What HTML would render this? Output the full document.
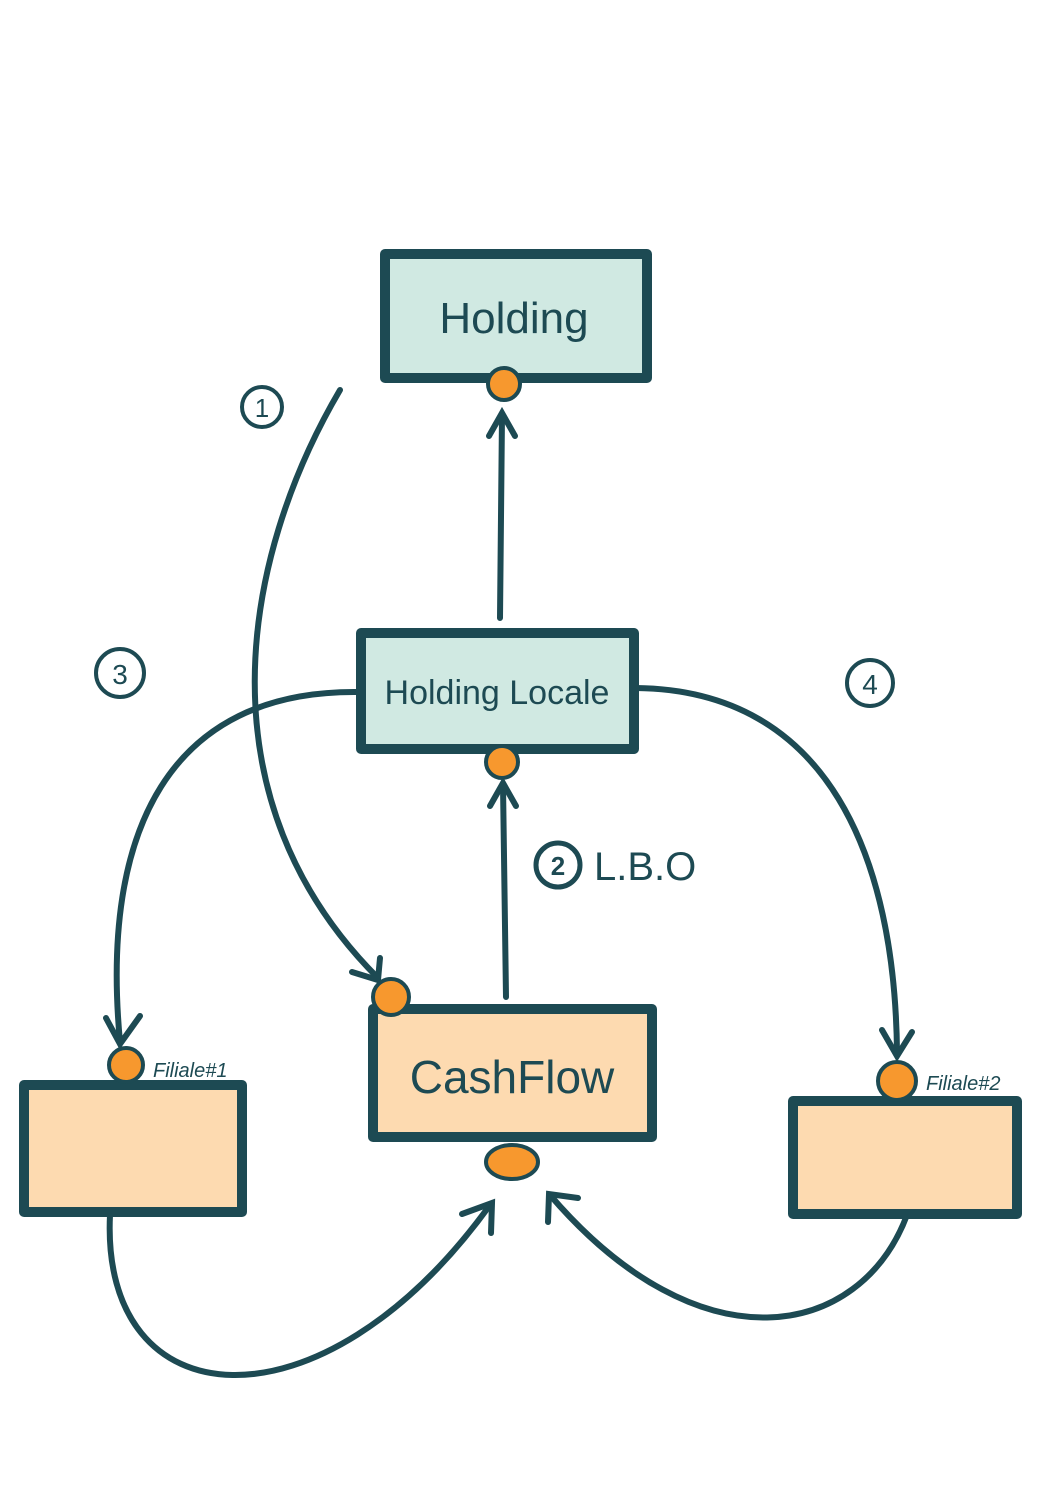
<!DOCTYPE html>
<html><head><meta charset="utf-8"><style>
html,body{margin:0;padding:0;background:#fff;width:1048px;height:1500px;overflow:hidden}
svg{display:block}
text{font-family:"Liberation Sans",sans-serif;fill:#1d4a53}
</style></head><body>
<svg width="1048" height="1500" viewBox="0 0 1048 1500" xmlns="http://www.w3.org/2000/svg">
<defs>
<marker id="ah" markerWidth="10" markerHeight="10" refX="5" refY="5" orient="auto" markerUnits="userSpaceOnUse" viewBox="0 0 10 10">
</marker>
</defs>
<g fill="none" stroke="#1d4a53" stroke-width="6" stroke-linecap="round">
<!-- vertical arrows -->
<path d="M500,618 L502,415"/>
<path d="M489,436 L502,413 L515,436"/>
<path d="M506,997 L503,785"/>
<path d="M490,806 L503,783 L516,806"/>
<!-- curve 1 -->
<path d="M340,390 C240,560 200,800 378,978"/>
<path d="M352,972 L378,980 L380,958"/>
<!-- curve 3 -->
<path d="M358,692 C170,690 100,830 120,1042"/>
<path d="M106,1018 L120,1044 L140,1016"/>
<!-- curve 4 -->
<path d="M636,688 C830,690 895,860 897,1052"/>
<path d="M882,1030 L897,1056 L912,1032"/>
<!-- bottom left -->
<path d="M110,1215 C100,1420 320,1440 490,1205"/>
<path d="M462,1214 L492,1203 L491,1233"/>
<!-- bottom right -->
<path d="M907,1215 C860,1340 700,1370 550,1195"/>
<path d="M548,1222 L549,1194 L578,1198"/>
</g>
<!-- boxes -->
<g stroke="#1d4a53" stroke-width="10" stroke-linejoin="round">
<rect x="385" y="254" width="262" height="124" fill="#d0e9e2"/>
<rect x="361" y="633" width="273" height="116" fill="#d0e9e2"/>
<rect x="373" y="1009" width="279" height="128" fill="#fddab0"/>
<rect x="24" y="1085" width="218" height="127" fill="#fddab0"/>
<rect x="793" y="1101" width="224" height="113" fill="#fddab0"/>
</g>
<!-- dots -->
<g fill="#f7982e" stroke="#1d4a53" stroke-width="4">
<circle cx="504" cy="384" r="16"/>
<circle cx="502" cy="762" r="16"/>
<circle cx="391" cy="997" r="18"/>
<circle cx="126" cy="1065" r="17"/>
<circle cx="897" cy="1081" r="19"/>
<ellipse cx="512" cy="1162" rx="26" ry="17"/>
</g>
<!-- labels -->
<text x="514" y="333" font-size="44" text-anchor="middle">Holding</text>
<text x="497" y="704" font-size="34" text-anchor="middle">Holding Locale</text>
<text x="512" y="1093" font-size="46" text-anchor="middle">CashFlow</text>
<text x="153" y="1077" font-size="20" font-style="italic">Filiale#1</text>
<text x="926" y="1090" font-size="20" font-style="italic">Filiale#2</text>
<!-- circled numbers -->
<g fill="none" stroke="#1d4a53" stroke-width="4">
<circle cx="262" cy="407" r="20"/>
<circle cx="120" cy="673" r="24"/>
<circle cx="870" cy="683" r="23"/>
<circle cx="558" cy="865" r="22" stroke-width="5"/>
</g>
<text x="262" y="417" font-size="26" text-anchor="middle">1</text>
<text x="120" y="684" font-size="28" text-anchor="middle">3</text>
<text x="870" y="694" font-size="28" text-anchor="middle">4</text>
<text x="558" y="875" font-size="26" text-anchor="middle" font-weight="bold">2</text>
<text x="594" y="880" font-size="40">L.B.O</text>
</svg>
</body></html>
